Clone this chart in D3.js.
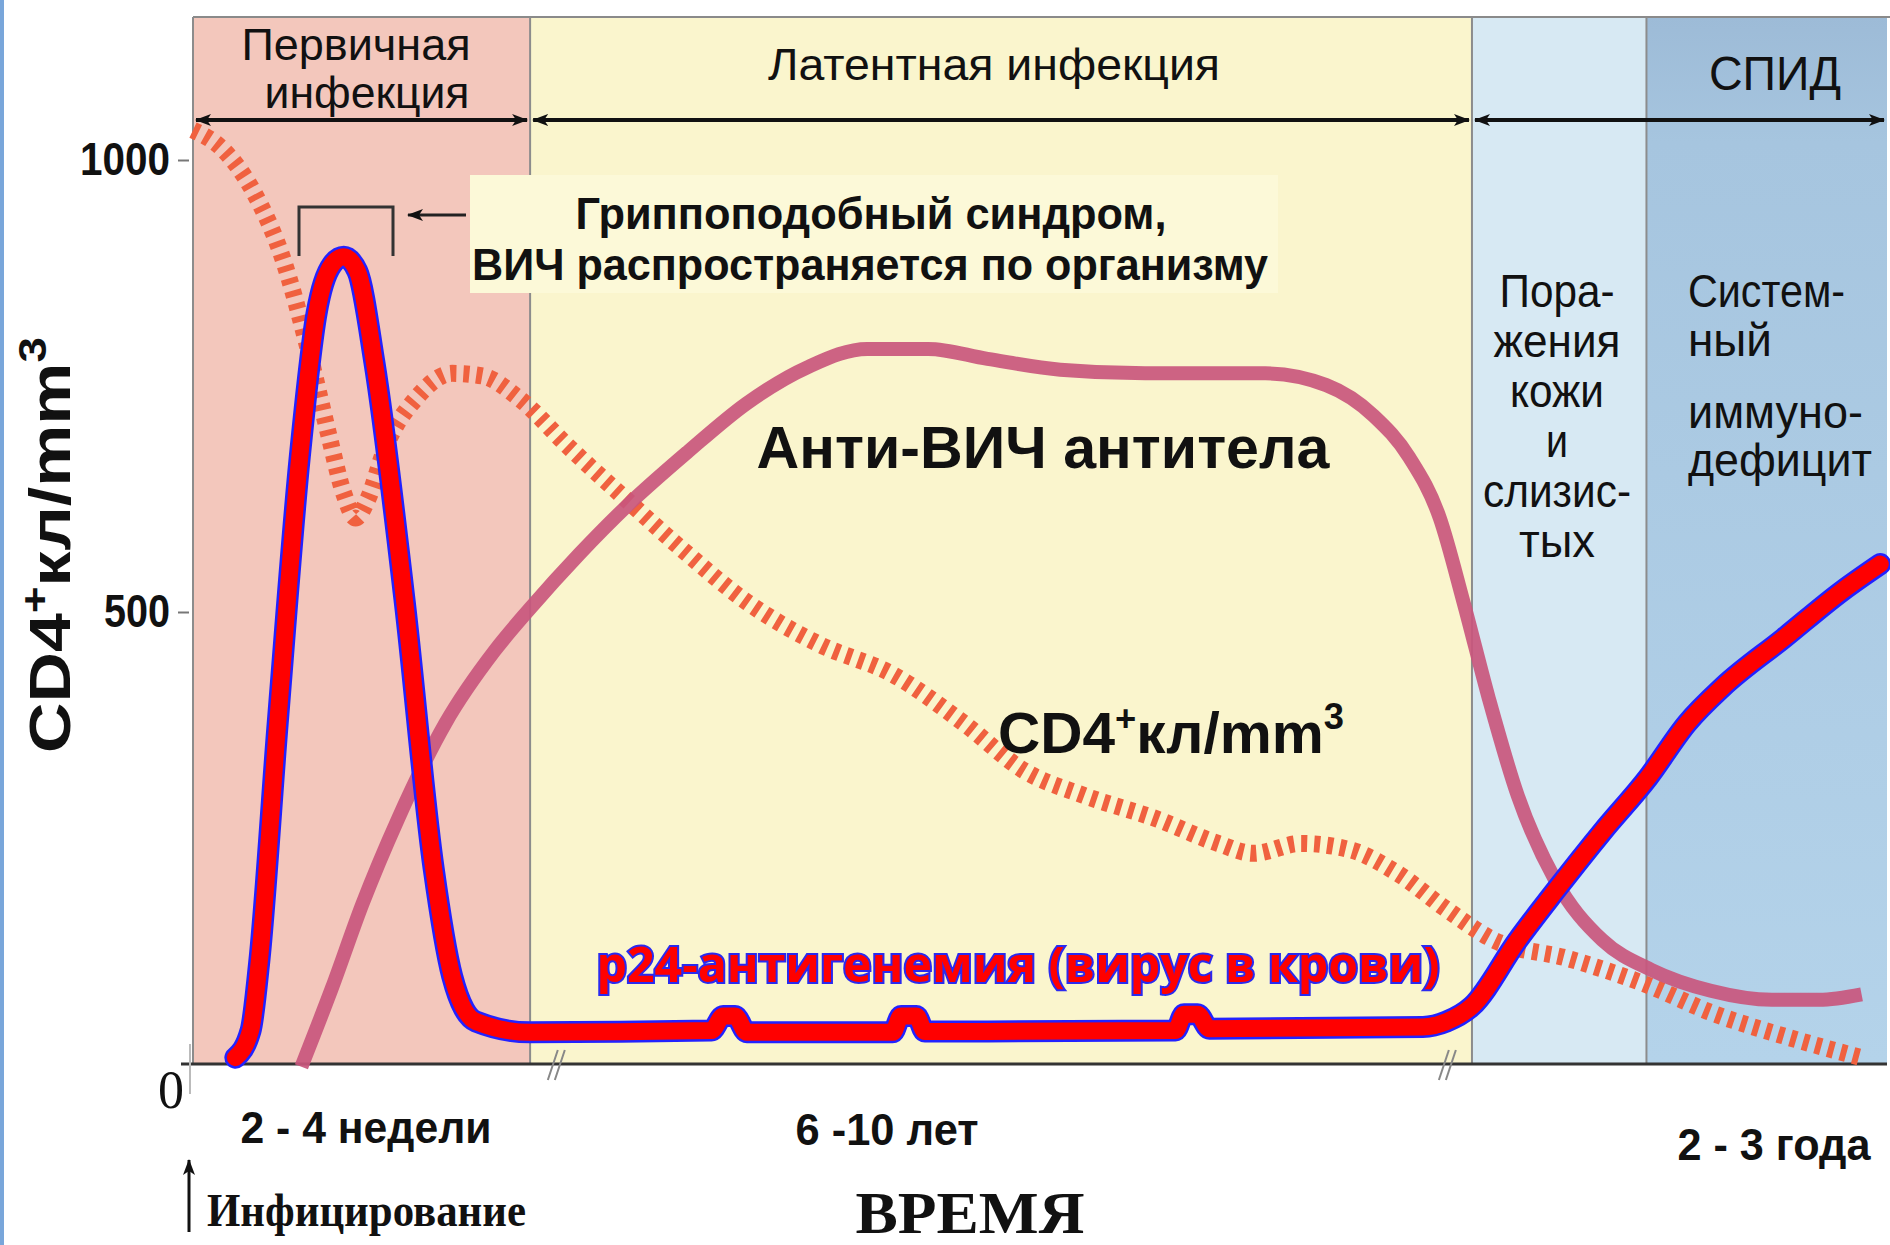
<!DOCTYPE html>
<html>
<head>
<meta charset="utf-8">
<script src="https://cdn.jsdelivr.net/npm/d3@7"></script>
<style>
body { margin: 0; background: #fff; }
svg text { font-family: "Liberation Sans Narrow", "Liberation Sans", Arial, sans-serif; }
</style>
</head>
<body>
<script>
var width = 1890,
    height = 1245;

// Фазы болезни (ось времени в % ширины графика)
var phaseStart = [0, 19.9, 75.5, 85.8];
var phaseEnd = [19.9, 75.5, 85.8, 100];
var phaseColors = ["#f3c7bc", "#faf5cd", "#d7e9f3", "#aecde4"];

var yTicks = [500, 1000];

// p24-антигенемия
var p24X = [2.5, 3.4, 3.9, 5.0, 6.3, 7.3, 8.2, 8.9, 9.7, 10.7, 12.5, 14.2, 15.3, 16.7, 19.9,
    30.6, 31.3, 32.0, 32.7, 41.3, 41.8, 42.7, 43.2, 58.0, 58.5, 59.3, 60.0,
    72.6, 74.0, 75.5, 78.2, 80.4, 83.2, 85.9, 88.2, 90.3, 93.9, 97.4, 99.6];
var p24Y = [7, 37, 111, 377, 671, 831, 884, 893, 877, 777, 511, 217, 97, 47, 35,
    37, 53, 53, 35, 35, 53, 53, 36, 37, 55, 55, 39,
    41, 47, 64, 137, 191, 257, 317, 377, 417, 471, 524, 553];

// Анти-ВИЧ антитела
var abX = [6.4, 8.2, 10.0, 12.1, 14.9, 17.8, 19.9, 22.8, 25.6, 29.2, 32.7, 36.3, 39.8, 43.4,
    46.9, 51.2, 56.2, 63.3, 66.9, 69.7, 71.8, 73.6, 75.0, 76.5, 78.2, 80.4, 83.2, 86.1,
    89.6, 93.2, 96.0, 98.5];
var abY = [-3, 84, 177, 271, 377, 457, 504, 564, 617, 677, 731, 771, 791, 791,
    780, 768, 764, 764, 751, 717, 671, 604, 511, 404, 297, 204, 137, 104,
    81, 71, 71, 77];

// CD4+ кл/mm3
var cd4X = [0, 1.8, 3.6, 5.3, 6.8, 8.0, 8.9, 9.6, 10.3, 11.4, 13.2, 15.3, 17.1, 19.2, 22.1,
    25.6, 29.2, 32.7, 37.0, 41.3, 45.5, 49.1, 52.6, 56.9, 60.5, 62.6, 65.4, 68.3, 71.1,
    74.0, 76.8, 81.1, 85.9, 89.6, 93.9, 98.5];
var cd4Y = [1033, 1011, 964, 891, 791, 697, 631, 604, 624, 684, 737, 764, 761, 737, 684,
    624, 564, 511, 464, 431, 377, 324, 297, 271, 244, 233, 244, 237, 211,
    171, 137, 117, 87, 57, 31, 7];

var svg = d3.select("body").append("svg")
    .attr("width", width)
    .attr("height", height);

var defs = svg.append("defs");
defs.append("marker")
    .attr("id", "arr")
    .attr("viewBox", "0 0 16 12")
    .attr("refX", 15).attr("refY", 6)
    .attr("markerWidth", 16).attr("markerHeight", 12)
    .attr("markerUnits", "userSpaceOnUse")
    .attr("orient", "auto-start-reverse")
    .append("path")
    .attr("d", "M0,0 L16,6 L0,12 L4,6 z")
    .attr("fill", "#111");

// градиент зоны СПИД
var grad = defs.append("linearGradient").attr("id", "aidsGrad")
    .attr("x1", 0).attr("x2", 0).attr("y1", 0).attr("y2", 1);
grad.append("stop").attr("offset", "0").attr("stop-color", "#9dbbd7");
grad.append("stop").attr("offset", "0.12").attr("stop-color", "#a6c5df");
grad.append("stop").attr("offset", "1").attr("stop-color", "#b4d3ea");

var x = d3.scaleLinear().domain([0, 100]).range([193, 1887]);
var y = d3.scaleLinear().domain([0, 1000]).range([1064, 160]);
var panelTop = 17;

// синяя полоса слева
svg.append("rect").attr("x", 0).attr("y", 0).attr("width", 4).attr("height", height).attr("fill", "#79a6da");

// фоны фаз
svg.selectAll("rect.phase")
    .data(phaseStart)
    .join("rect")
    .attr("class", "phase")
    .attr("x", function (d) { return x(d); })
    .attr("y", panelTop)
    .attr("width", function (d, i) { return x(phaseEnd[i]) - x(d); })
    .attr("height", y(0) - panelTop)
    .attr("fill", function (d, i) { return i == 3 ? "url(#aidsGrad)" : phaseColors[i]; });

// границы
svg.append("line").attr("x1", x(0)).attr("x2", width).attr("y1", panelTop).attr("y2", panelTop)
    .attr("stroke", "#8a8a8a").attr("stroke-width", 2);
[0, 19.9, 75.5, 85.8].forEach(function (v) {
    svg.append("line").attr("x1", x(v)).attr("x2", x(v)).attr("y1", panelTop).attr("y2", y(0))
        .attr("stroke", "#8c8c8c").attr("stroke-width", 2);
});

// ось X
svg.append("line").attr("x1", x(0) - 12).attr("x2", x(100)).attr("y1", y(0)).attr("y2", y(0))
    .attr("stroke", "#333").attr("stroke-width", 3);
svg.append("line").attr("x1", x(0) - 3).attr("x2", x(0) - 3).attr("y1", y(0) - 20).attr("y2", y(0) + 30)
    .attr("stroke", "#bbb").attr("stroke-width", 2);

// разрывы оси
[21.3, 73.9].forEach(function (v) {
    [0, 7].forEach(function (o) {
        svg.append("line")
            .attr("x1", x(v) + o - 6).attr("y1", y(0) + 16)
            .attr("x2", x(v) + o + 4).attr("y2", y(0) - 14)
            .attr("stroke", "#888").attr("stroke-width", 2);
    });
});

// ось Y
var yAxis = svg.append("g")
    .attr("transform", "translate(" + (x(0) - 4) + ",0)")
    .call(d3.axisLeft(y).tickValues(yTicks).tickFormat(d3.format("d")).tickSize(11).tickPadding(8));
yAxis.select(".domain").remove();
yAxis.selectAll("line").attr("stroke", "#777").attr("stroke-width", 2);
yAxis.selectAll("text")
    .attr("font-size", 46)
    .attr("font-weight", "bold")
    .attr("fill", "#111")
    .attr("textLength", function (d) { return d == 1000 ? 90 : 66; })
    .attr("lengthAdjust", "spacingAndGlyphs");

function label(txt, px, py, size, opts) {
    opts = opts || {};
    var t = svg.append("text")
        .attr("x", px).attr("y", py)
        .attr("font-size", size)
        .attr("text-anchor", opts.anchor || "middle")
        .attr("font-weight", opts.weight || "normal")
        .attr("fill", opts.fill || "#111")
        .text(txt);
    if (opts.family) t.style("font-family", opts.family);
    if (opts.len) t.attr("textLength", opts.len).attr("lengthAdjust", "spacingAndGlyphs");
    return t;
}

label("0", 171, 1108, 54, { family: "'Liberation Serif', serif", len: 26 });

// подпись оси Y
var yl = svg.append("text")
    .attr("transform", "translate(70,545) rotate(-90)")
    .attr("text-anchor", "middle")
    .attr("font-size", 58)
    .attr("font-weight", "bold")
    .attr("fill", "#111")
    .attr("textLength", 416).attr("lengthAdjust", "spacingAndGlyphs")
    .style("font-family", "'Liberation Sans', Arial, sans-serif");
yl.append("tspan").text("CD4");
yl.append("tspan").attr("dy", -22).attr("font-size", 38).text("+");
yl.append("tspan").attr("dy", 22).text("кл/mm");
yl.append("tspan").attr("dy", -24).attr("font-size", 38).text("3");

// заголовки фаз
label("Первичная", 356, 60, 44, { len: 229 });
label("инфекция", 367, 108, 44, { len: 205 });
label("Латентная  инфекция", 994, 80, 44, { len: 452 });
label("СПИД", 1775, 90, 48, { len: 132 });

[[0, 19.9], [19.9, 75.5], [75.5, 100]].forEach(function (p) {
    svg.append("line").attr("x1", x(p[0]) + 3).attr("x2", x(p[1]) - 3).attr("y1", 120).attr("y2", 120)
        .attr("stroke", "#111").attr("stroke-width", 4)
        .attr("marker-start", "url(#arr)").attr("marker-end", "url(#arr)");
});

// плашка с гриппоподобным синдромом
svg.append("rect").attr("x", 470).attr("y", 175).attr("width", 808).attr("height", 118).attr("fill", "#fcf9d8");
label("Гриппоподобный синдром,", 871, 229, 44, { weight: "bold", len: 591 });
label("ВИЧ распространяется по организму", 870, 280, 44, { weight: "bold", len: 796 });
svg.append("path")
    .attr("d", "M299,256 L299,207 L393,207 L393,256")
    .attr("fill", "none").attr("stroke", "#333").attr("stroke-width", 3);
svg.append("line").attr("x1", 466).attr("x2", 408).attr("y1", 215).attr("y2", 215)
    .attr("stroke", "#222").attr("stroke-width", 3).attr("marker-end", "url(#arr)");

// тексты в синих зонах
var skin = ["Пора-", "жения", "кожи", "и", "слизис-", "тых"];
var skinLen = [115, 127, 94, 22, 148, 76];
skin.forEach(function (s, i) {
    label(s, 1557, 307 + i * 50, 46, { len: skinLen[i] });
});
var aids = ["Систем-", "ный", "иммуно-", "дефицит"];
var aidsLen = [157, 84, 175, 184];
var aidsY = [307, 356, 428, 476];
aids.forEach(function (s, i) {
    label(s, 1688, aidsY[i], 46, { anchor: "start", len: aidsLen[i] });
});

// кривые
var line = d3.line()
    .x(function (d) { return x(d[0]); })
    .y(function (d) { return y(d[1]); })
    .curve(d3.curveMonotoneX);

var cd4 = cd4X.map(function (v, i) { return [v, cd4Y[i]]; });
var ab = abX.map(function (v, i) { return [v, abY[i]]; });
var p24 = p24X.map(function (v, i) { return [v, p24Y[i]]; });

svg.append("path").datum(cd4)
    .attr("d", line)
    .attr("fill", "none")
    .attr("stroke", "#f0613f")
    .attr("stroke-width", 17)
    .attr("stroke-dasharray", "6 7");

svg.append("path").datum(ab)
    .attr("d", line)
    .attr("fill", "none")
    .attr("stroke", "#c9567d")
    .attr("stroke-width", 14)
    .attr("opacity", 0.92);

svg.append("path").datum(p24)
    .attr("d", line)
    .attr("fill", "none")
    .attr("stroke", "#2222ff")
    .attr("stroke-width", 22)
    .attr("stroke-linejoin", "round")
    .attr("stroke-linecap", "round");
svg.append("path").datum(p24)
    .attr("d", line)
    .attr("fill", "none")
    .attr("stroke", "#ff0000")
    .attr("stroke-width", 17)
    .attr("stroke-linejoin", "round")
    .attr("stroke-linecap", "round");

// подписи кривых
label("Анти-ВИЧ  антитела", 1043, 468, 60, { weight: "bold", len: 573 });

var cl = svg.append("text").attr("x", 998).attr("y", 753)
    .attr("font-size", 58).attr("font-weight", "bold").attr("fill", "#111")
    .attr("textLength", 346).attr("lengthAdjust", "spacingAndGlyphs");
cl.append("tspan").text("CD4");
cl.append("tspan").attr("dy", -22).attr("font-size", 36).text("+");
cl.append("tspan").attr("dy", 22).text("кл/mm");
cl.append("tspan").attr("dy", -24).attr("font-size", 36).text("3");

label("p24-антигенемия (вирус в крови)", 1018, 982, 48, { weight: "bold", fill: "#ff0000", len: 843, family: "'Open Sans', 'Noto Sans', sans-serif" })
    .attr("stroke", "#2a2af0").attr("stroke-width", 4)
    .style("paint-order", "stroke");

// подписи внизу
label("2 - 4 недели", 366, 1143, 44, { weight: "bold", len: 251 });
label("6 -10 лет", 887, 1145, 44, { weight: "bold", len: 183 });
label("2 - 3 года", 1774, 1160, 44, { weight: "bold", len: 193 });
label("ВРЕМЯ", 970, 1233, 60, { weight: "bold", len: 229, family: "'Liberation Serif', serif" });
label("Инфицирование", 207, 1226, 46, { anchor: "start", weight: "bold", len: 319, family: "'Liberation Serif', serif" });
svg.append("line").attr("x1", 189).attr("x2", 189).attr("y1", 1232).attr("y2", 1160)
    .attr("stroke", "#111").attr("stroke-width", 3).attr("marker-end", "url(#arr)");
</script>
</body>
</html>
